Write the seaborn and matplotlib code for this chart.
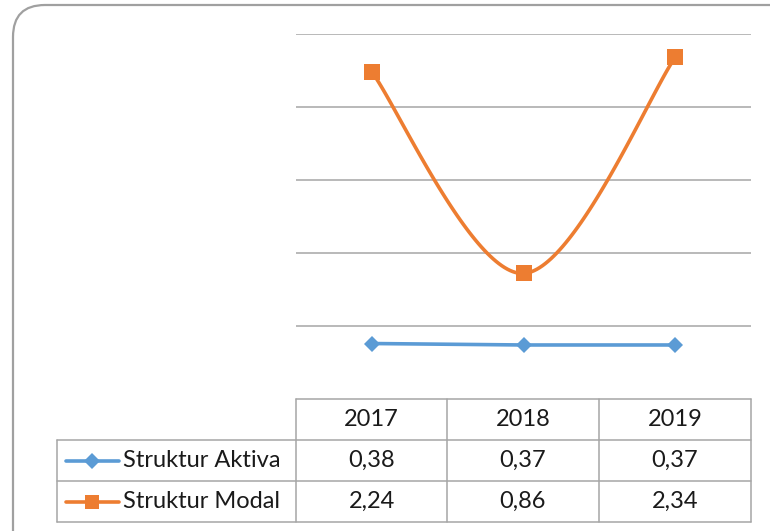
import numpy as np
import pandas as pd
import matplotlib.pyplot as plt
import seaborn as sns
from matplotlib.patches import FancyBboxPatch
from matplotlib.lines import Line2D

# data
years = ["2017", "2018", "2019"]
aktiva = [0.38, 0.37, 0.37]
modal = [2.24, 0.86, 2.34]
series_names = ["Struktur Aktiva", "Struktur Modal"]
blue = "#5B9BD5"
orange = "#ED7D31"
grid_col = "#A6A6A6"


def excel_smooth(y, n=60):
    """bezier smoothing like excel's 'smoothed line' option"""
    x = np.arange(len(y), dtype=float)
    p = np.column_stack([x, np.array(y, dtype=float)])
    out = []
    for i in range(len(p) - 1):
        p0 = p[i - 1] if i > 0 else p[i]
        p3 = p[i + 2] if i + 2 < len(p) else p[i + 1]
        c1 = p[i] + (p[i + 1] - p0) / 6
        c2 = p[i + 1] - (p3 - p[i]) / 6
        t = np.linspace(0, 1, n)[:, None]
        seg = ((1 - t) ** 3) * p[i] + 3 * ((1 - t) ** 2) * t * c1 \
            + 3 * (1 - t) * t ** 2 * c2 + t ** 3 * p[i + 1]
        out.append(seg if i == 0 else seg[1:])
    return np.vstack(out)


sns.set_style("white")
plt.rcParams["font.family"] = ["Lato", "DejaVu Sans"]

W, H = 770, 531
fig = plt.figure(figsize=(W / 100, H / 100), dpi=100)

# background overlay in pixel coords (frame + table)
bg = fig.add_axes([0, 0, 1, 1])
bg.set_xlim(0, W)
bg.set_ylim(H, 0)
bg.axis("off")
bg.add_patch(FancyBboxPatch((13, 5), 790, 560, boxstyle="round,pad=0,rounding_size=32",
                            fc="white", ec="#A0A0A0", lw=1.6))

# plot area
ax = fig.add_axes([296 / W, 1 - 399 / H, 455 / W, 365 / H])
ax.patch.set_alpha(0)
df_a = pd.DataFrame({"x": np.arange(3), "y": aktiva})
curve = excel_smooth(modal)
df_m = pd.DataFrame({"x": curve[:, 0], "y": curve[:, 1]})

for yv in [0.5, 1.0, 1.5, 2.0, 2.5]:
    ax.axhline(yv, color=grid_col, lw=1.1, zorder=0)

sns.lineplot(data=df_a, x="x", y="y", ax=ax, color=blue, lw=2.6,
             marker="D", markersize=8, markeredgewidth=0)
sns.lineplot(data=df_m, x="x", y="y", ax=ax, color=orange, lw=2.6, sort=False)
sns.scatterplot(x=np.arange(3), y=modal, ax=ax, color=orange, marker="s",
                s=130, linewidth=0, zorder=5)
ax.set_xlim(-0.5, 2.5)
ax.set_ylim(0, 2.5)
ax.set_xticks([])
ax.set_yticks([])
ax.set_xlabel("")
ax.set_ylabel("")
for s in ax.spines.values():
    s.set_visible(False)

# data table
cols = [296, 447, 599, 751]
rows = [399, 440, 481, 522]
tc = "#A6A6A6"
for yv in rows:
    x0 = 296 if yv == rows[0] else 57
    bg.plot([x0, 751], [yv, yv], color=tc, lw=1.1)
for xv in cols:
    bg.plot([xv, xv], [399, 522], color=tc, lw=1.1)
bg.plot([57, 57], [440, 522], color=tc, lw=1.1)

fs = 17
for j, yr in enumerate(years):
    cx = (cols[j] + cols[j + 1]) / 2
    bg.text(cx, (rows[0] + rows[1]) / 2, yr, ha="center", va="center", fontsize=fs, color="#1a1a1a")
    bg.text(cx, (rows[1] + rows[2]) / 2, f"{aktiva[j]:.2f}".replace(".", ","),
            ha="center", va="center", fontsize=fs, color="#1a1a1a")
    bg.text(cx, (rows[2] + rows[3]) / 2, f"{modal[j]:.2f}".replace(".", ","),
            ha="center", va="center", fontsize=fs, color="#1a1a1a")

# legend keys inside the table
for i, (name, col, mk, ms) in enumerate(zip(series_names, [blue, orange], ["D", "s"], [8, 10])):
    yc = (rows[i + 1] + rows[i + 2]) / 2
    bg.add_line(Line2D([66, 119], [yc, yc], color=col, lw=2.6, marker=None))
    bg.add_line(Line2D([92], [yc], color=col, marker=mk, markersize=ms, markeredgewidth=0))
    bg.text(123, yc, name, ha="left", va="center", fontsize=fs, color="#1a1a1a")

fig.savefig("out.png", dpi=100)
